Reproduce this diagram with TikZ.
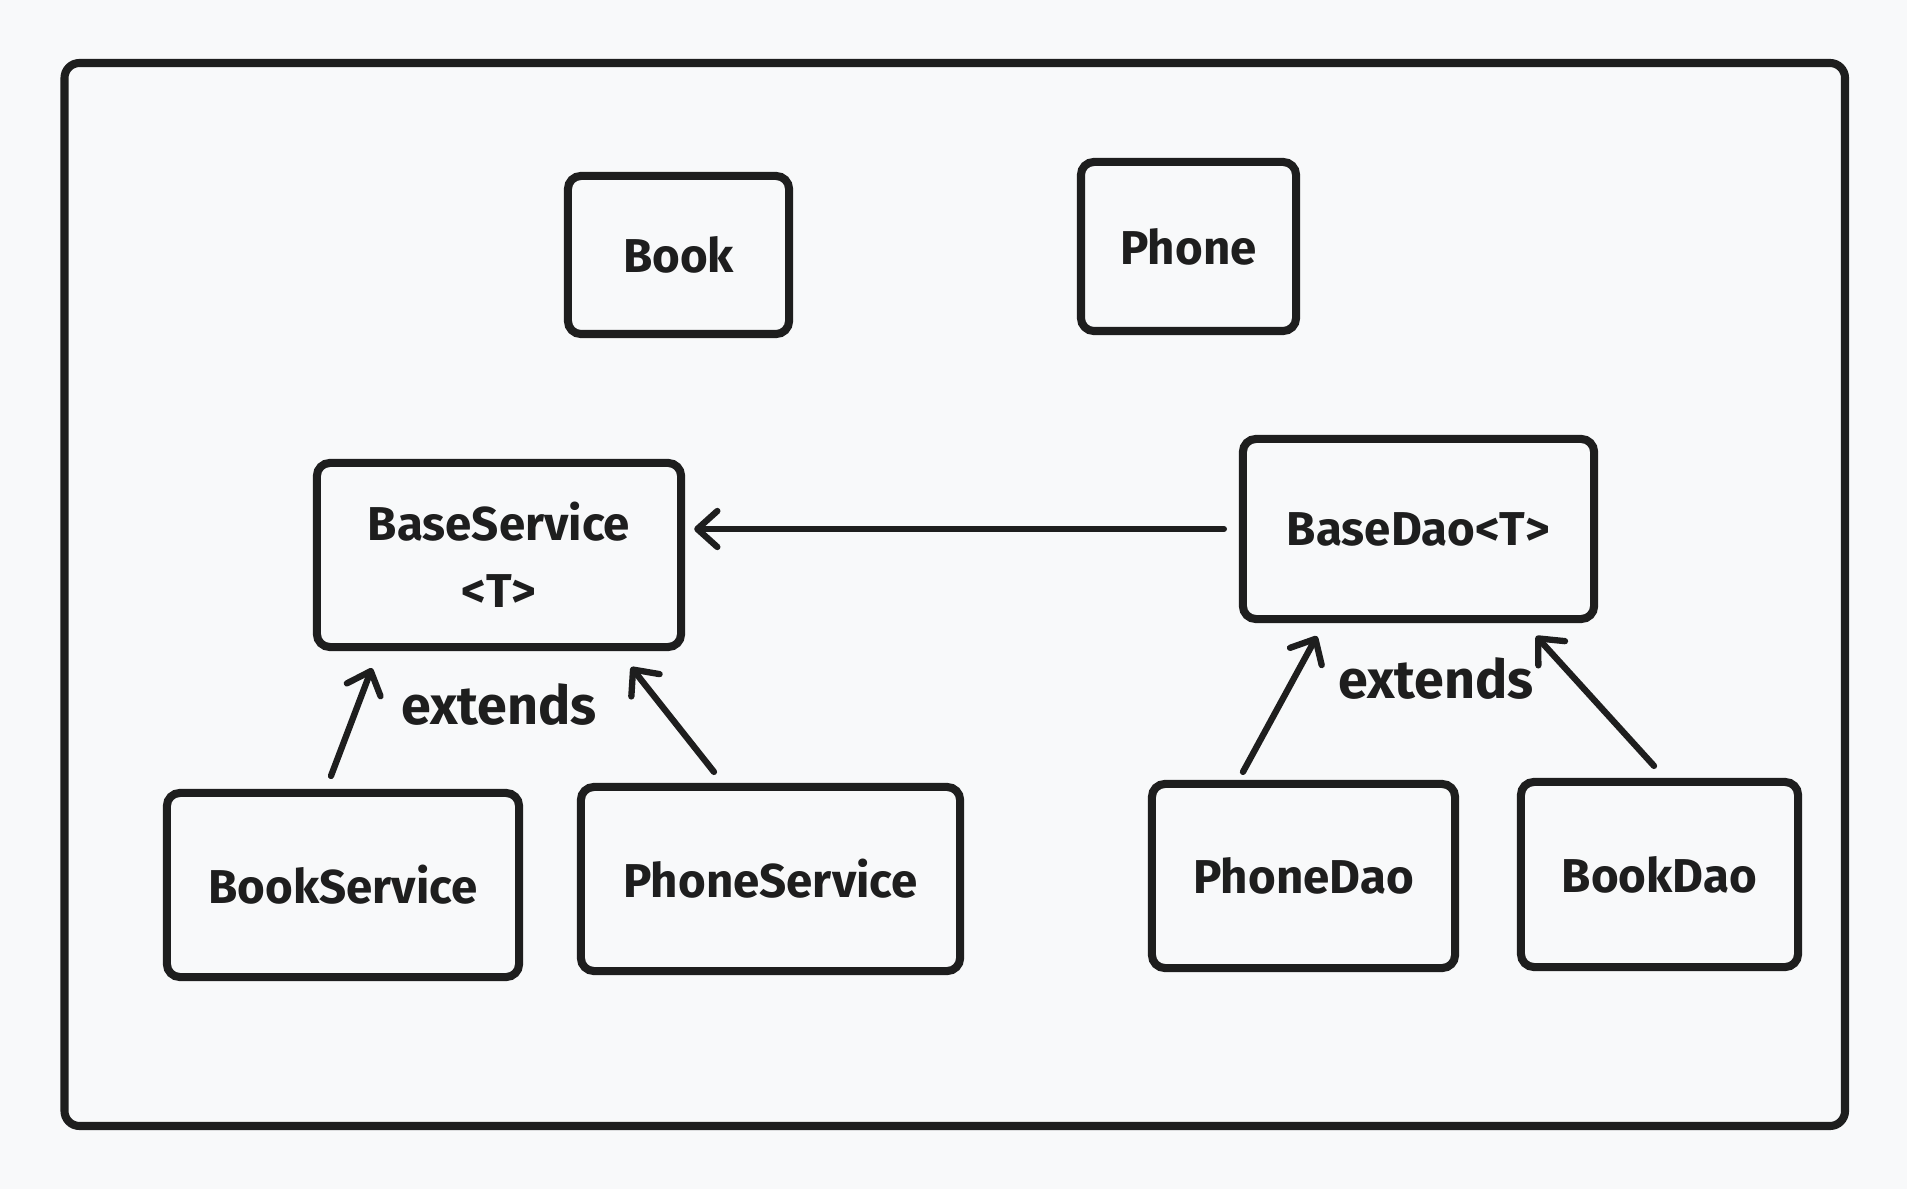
\documentclass[tikz,border=0pt]{standalone}
\usepackage{fontspec}
\setmainfont{Fira Sans}
\usepackage{tikz}
\usetikzlibrary{arrows.meta}

\definecolor{ink}{HTML}{1E1E1E}
\definecolor{paper}{HTML}{F8F9FA}

\tikzset{
    cls/.style={draw=ink, line width=2.3pt, rounded corners=0.13cm, align=center,
        font=\bfseries\fontsize{13.5}{19}\selectfont, text=ink},
    rel/.style={->, draw=ink, line width=1.8pt, line cap=round},
    lbl/.style={font=\bfseries\fontsize{15.3}{18}\selectfont, text=ink}
}

\begin{document}
\begin{tikzpicture}[x=0.01cm,y=-0.01cm,>={Straight Barb[length=0.2cm,width=0.36cm,line cap=round,line join=round]}]
    \path[use as bounding box, fill=paper] (0,0) rectangle (1907,1189);
    \draw[ink, line width=2.3pt, rounded corners=0.15cm] (64.5,63) rectangle (1845,1126);
    % entities
    \node[cls, minimum width=2.21cm, minimum height=1.58cm] (book)  at (678.5,255) {Book};
    \node[cls, minimum width=2.15cm, minimum height=1.69cm] (phone) at (1188.5,246.5) {Phone};
    % base classes
    \node[cls, minimum width=3.64cm, minimum height=1.84cm] (baseservice) at (499,555) {BaseService\\<T>};
    \node[cls, minimum width=3.51cm, minimum height=1.80cm] (basedao)     at (1418.5,529) {BaseDao<T>};
    % subclasses
    \node[cls, minimum width=3.52cm, minimum height=1.84cm] (bookservice)  at (343,885) {BookService};
    \node[cls, minimum width=3.79cm, minimum height=1.84cm] (phoneservice) at (770.5,879) {PhoneService};
    \node[cls, minimum width=3.03cm, minimum height=1.84cm] (phonedao)     at (1303.5,876) {PhoneDao};
    \node[cls, minimum width=2.77cm, minimum height=1.85cm] (bookdao)      at (1659.5,874.5) {BookDao};
    \node[lbl] (extleft)  at (499,705)  {extends};
    \node[lbl] (extright) at (1436,679) {extends};
    % arrows
    \draw[rel, shorten <=0.15cm, shorten >=0.09cm] (basedao.west) -- (basedao.west -| baseservice.east);
    \draw[rel] ([xshift=-0.12cm,yshift=0.13cm]bookservice.north) -- ([xshift=-1.27cm,yshift=-0.17cm]baseservice.south);
    \draw[rel] ([xshift=-0.565cm,yshift=0.11cm]phoneservice.north) -- ([xshift=1.32cm,yshift=-0.16cm]baseservice.south);
    \draw[rel] ([xshift=-0.605cm,yshift=0.08cm]phonedao.north) -- ([xshift=-1.015cm,yshift=-0.13cm]basedao.south);
    \draw[rel] ([xshift=-0.055cm,yshift=0.12cm]bookdao.north) -- ([xshift=1.175cm,yshift=-0.13cm]basedao.south);
\end{tikzpicture}
\end{document}
